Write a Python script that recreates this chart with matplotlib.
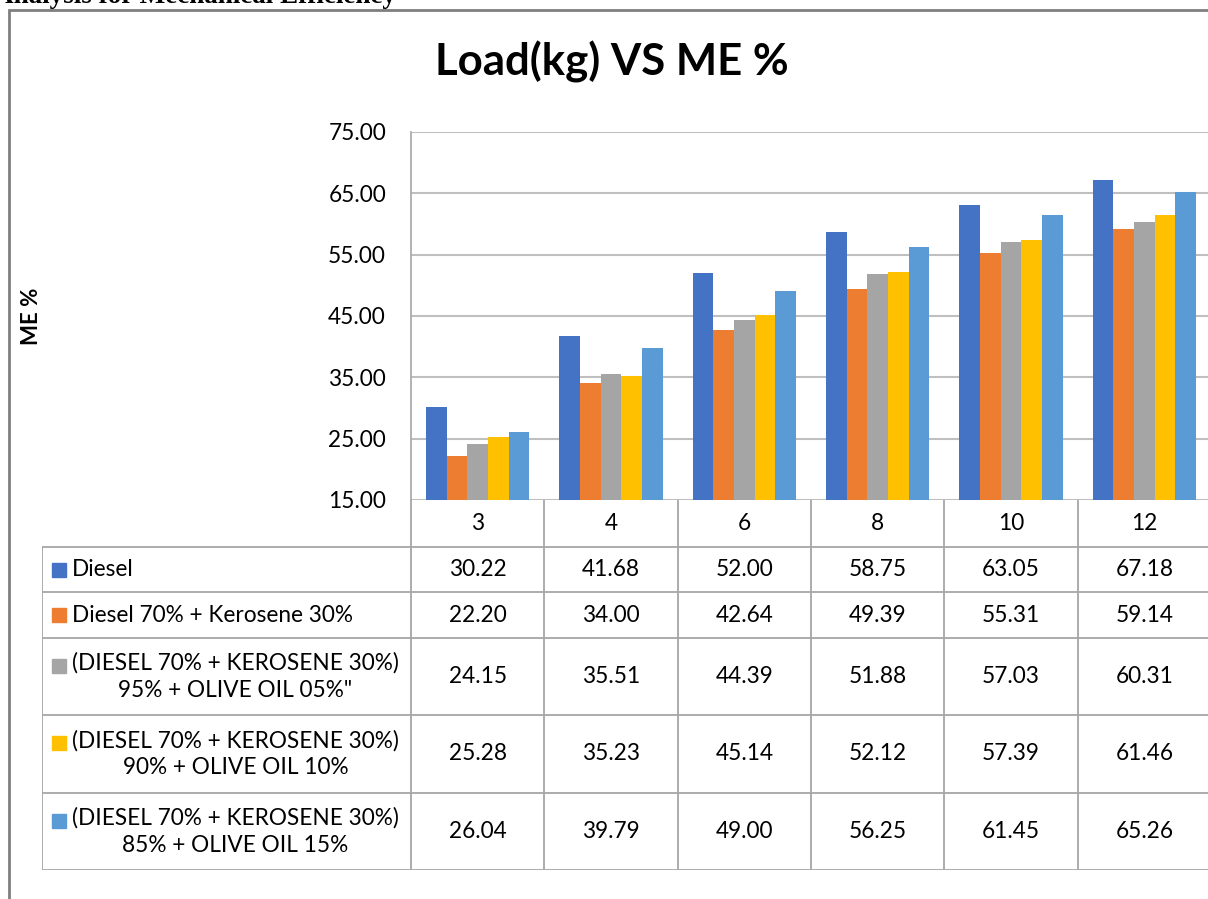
import matplotlib.pyplot as plt
from matplotlib.patches import Rectangle

plt.rcParams['font.family'] = ['Lato', 'DejaVu Sans']

loads = ['3', '4', '6', '8', '10', '12']
series = ['Diesel',
          'Diesel 70% + Kerosene 30%',
          '(DIESEL 70% + KEROSENE 30%)\n95% + OLIVE OIL 05%"',
          '(DIESEL 70% + KEROSENE 30%)\n90% + OLIVE OIL 10%',
          '(DIESEL 70% + KEROSENE 30%)\n85% + OLIVE OIL 15%']
diesel = [30.22, 41.68, 52.00, 58.75, 63.05, 67.18]
dk = [22.20, 34.00, 42.64, 49.39, 55.31, 59.14]
olive05 = [24.15, 35.51, 44.39, 51.88, 57.03, 60.31]
olive10 = [25.28, 35.23, 45.14, 52.12, 57.39, 61.46]
olive15 = [26.04, 39.79, 49.00, 56.25, 61.45, 65.26]
values = [diesel, dk, olive05, olive10, olive15]
colors = ['#4472C4', '#ED7D31', '#A5A5A5', '#FFC000', '#5B9BD5']
yticks = [15, 25, 35, 45, 55, 65, 75]

W, H = 1208, 899
fig = plt.figure(figsize=(W / 100, H / 100), dpi=100)

def fx(px):
    return px / W

def fy(py):
    return (H - py) / H

grid_c = '#BFBFBF'
line_c = '#A6A6A6'
fs = 16.3

# chart area
x0, x1 = 411, 1211
ax = fig.add_axes([fx(x0), fy(500), fx(x1) - fx(x0), fy(132) - fy(500)])
n = len(loads)
bw = 0.155
for i, (vals, c) in enumerate(zip(values, colors)):
    xs = [k + 0.5 + (i - 2) * bw for k in range(n)]
    ax.bar(xs, [v - 15 for v in vals], bottom=15, width=bw, color=c, zorder=3)
ax.set_xlim(0, n)
ax.set_ylim(15, 75)
ax.set_yticks(yticks)
ax.set_yticklabels(['%.2f' % t for t in yticks], fontsize=fs)
ax.tick_params(axis='y', length=0, pad=18)
ax.set_xticks([])
ax.grid(axis='y', color=grid_c, linewidth=1.5, zorder=0)
for s in ['top', 'right', 'bottom']:
    ax.spines[s].set_visible(False)
ax.spines['left'].set_color(line_c)
ax.spines['left'].set_linewidth(1.2)

# data table
rows = [500, 547, 592, 638, 715, 793, 870]
lx = (42 - x0) / ((x1 - x0) / n)
tb = fig.add_axes([fx(42), fy(870), fx(x1) - fx(42), fy(500) - fy(870)])
tb.set_xlim(lx, n)
tb.set_ylim(870, 500)
tb.axis('off')
for r in rows[1:]:
    tb.plot([lx, n], [r, r], color=line_c, lw=1.3)
for k in range(n + 1):
    tb.plot([k, k], [500, 870], color=line_c, lw=1.3)
tb.plot([lx, lx], [547, 870], color=line_c, lw=1.3)
for k, lab in enumerate(loads):
    tb.text(k + 0.5, (rows[0] + rows[1]) / 2, lab, ha='center', va='center', fontsize=fs)
for j, (name, vals, c) in enumerate(zip(series, values, colors)):
    yc = (rows[j + 1] + rows[j + 2]) / 2
    for k, v in enumerate(vals):
        tb.text(k + 0.5, yc, '%.2f' % v, ha='center', va='center', fontsize=fs)
    ly = yc if '\n' not in name else yc - 11
    fig.patches.append(Rectangle((fx(52), fy(ly + 7)), fx(14), fy(ly - 7) - fy(ly + 7),
                                 transform=fig.transFigure, color=c))
    fig.text(fx(72), fy(yc), name, ha='left', va='center', fontsize=fs,
             multialignment='center', linespacing=1.35)

# titles
fig.text(fx(612), fy(62), 'Load(kg) VS ME %', ha='center', va='center',
         fontsize=31.5, fontweight='bold')
fig.text(fx(32), fy(316), 'ME %', ha='center', va='center', rotation=90,
         fontsize=16, fontweight='bold')

# outer frame and cut-off heading above it
fig.patches.append(Rectangle((fx(9), fy(1000)), fx(1300), fy(10) - fy(1000),
                             transform=fig.transFigure, fill=False,
                             edgecolor='#7F7F7F', lw=2))
fig.text(fx(-6), fy(3), 'Analysis for Mechanical Efficiency', ha='left', va='baseline',
         fontsize=19.5, fontweight='bold', family='Liberation Serif')

fig.savefig('out.png', dpi=100)
